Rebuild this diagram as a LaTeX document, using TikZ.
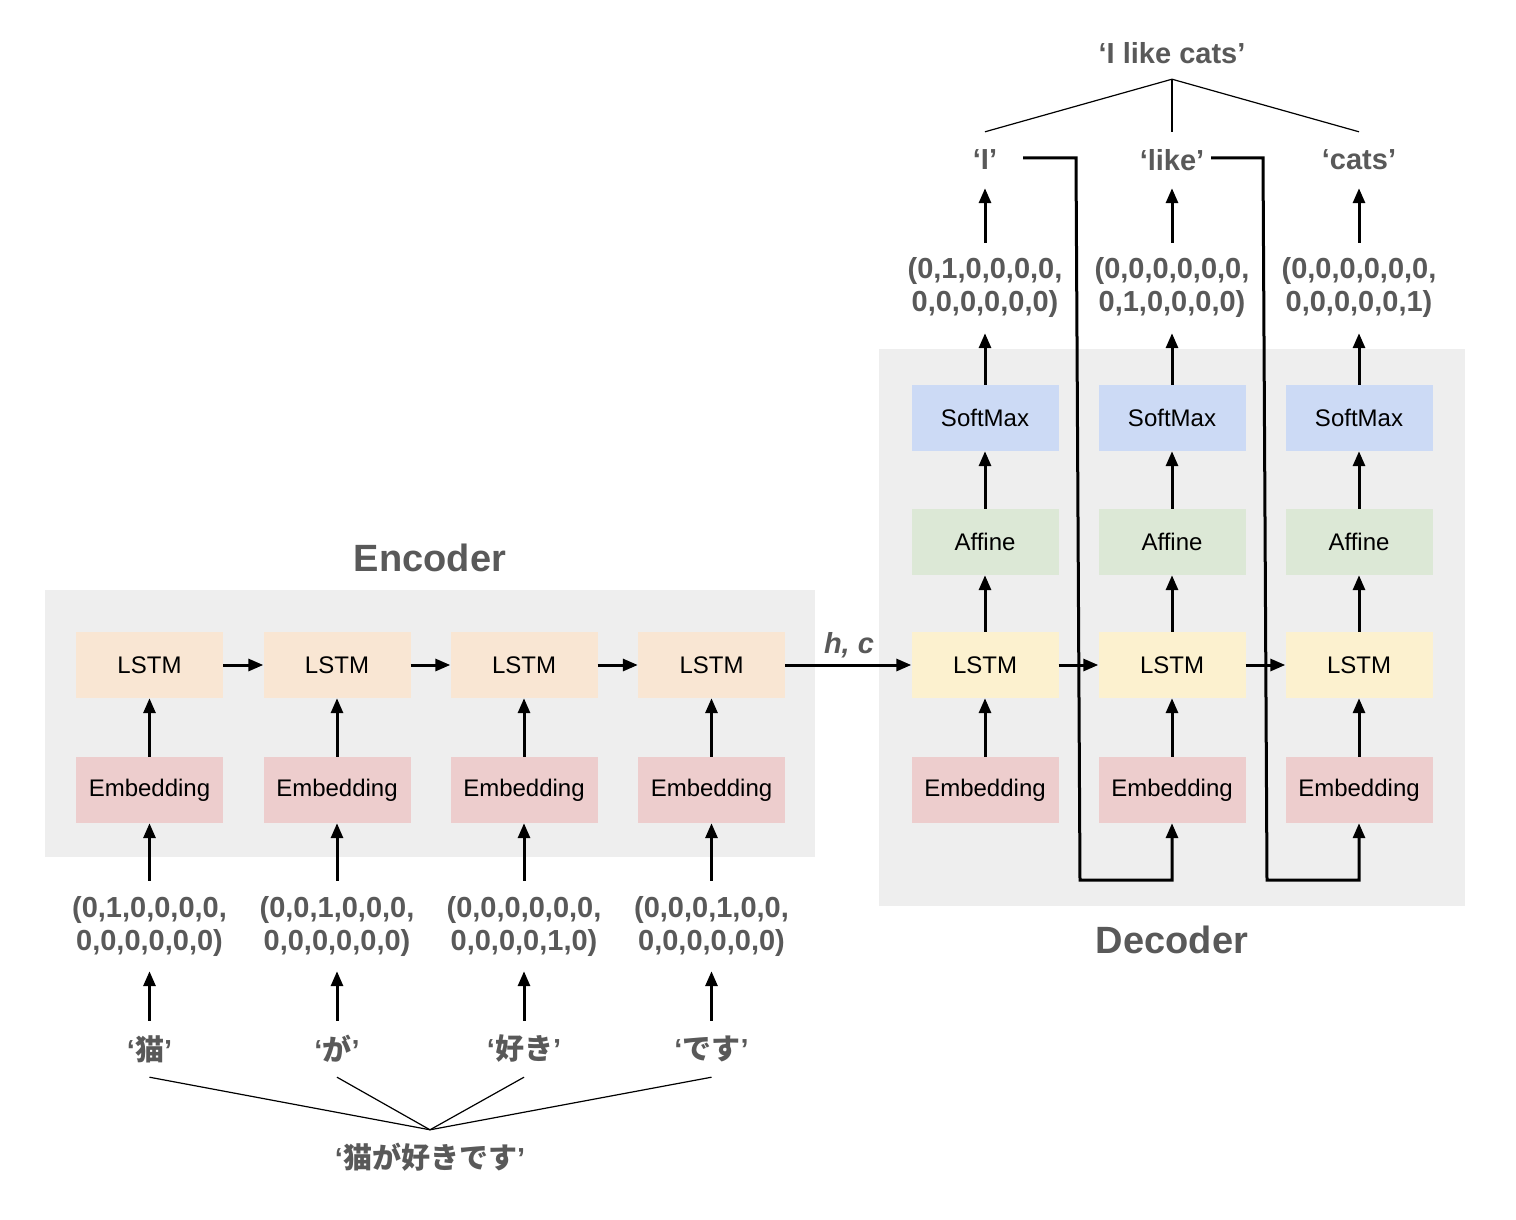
\documentclass[tikz,border=0pt]{standalone}
\usepackage{fontspec}
\setmainfont{Liberation Sans}
\newfontfamily\cjk{Noto Sans CJK JP}
\usetikzlibrary{arrows.meta}
\definecolor{bggray}{HTML}{EEEEEE}
\definecolor{elstmc}{HTML}{F9E6D3}
\definecolor{embc}{HTML}{EDCDCD}
\definecolor{dlstmc}{HTML}{FCF1CF}
\definecolor{affc}{HTML}{DCE8D6}
\definecolor{smxc}{HTML}{CCDAF5}
\definecolor{txtgray}{HTML}{595959}
\tikzset{
  blk/.style={minimum width=147pt, minimum height=66pt, inner sep=0pt, font=\fontsize{24}{28}\selectfont, text=black},
  elstm/.style={blk, fill=elstmc},
  emb/.style={blk, fill=embc},
  dlstm/.style={blk, fill=dlstmc},
  aff/.style={blk, fill=affc},
  smx/.style={blk, fill=smxc},
  lbl/.style={font=\fontsize{29}{33}\selectfont\bfseries, text=txtgray, inner sep=0pt},
  vec/.style={lbl, align=center, minimum height=90pt},
  word/.style={lbl, minimum height=56pt},
  ttl/.style={font=\fontsize{38}{44}\selectfont\bfseries, text=txtgray, inner sep=0pt},
  arr/.style={line width=3pt, -{Triangle[length=15pt,width=12pt]}},
  thinln/.style={line width=1.2pt},
  bgbox/.style={fill=bggray, draw=none},
}
\begin{document}
\begin{tikzpicture}[x=1pt,y=-1pt]
\useasboundingbox (0,0) rectangle (1516,1220);
% backgrounds
\fill[bgbox] (45,590) rectangle (815,857);
\fill[bgbox] (879,349) rectangle (1465,906);

% titles
\node[ttl] (enctitle) at (430,558) {Encoder};
\node[ttl] (dectitle) at (1172,940) {Decoder};

% encoder
\node[elstm] (el1) at (149.5,665) {LSTM};
\node[elstm] (el2) at (337,665) {LSTM};
\node[elstm] (el3) at (524,665) {LSTM};
\node[elstm] (el4) at (711.5,665) {LSTM};
\node[emb] (ee1) at (149.5,790) {Embedding};
\node[emb] (ee2) at (337,790) {Embedding};
\node[emb] (ee3) at (524,790) {Embedding};
\node[emb] (ee4) at (711.5,790) {Embedding};
\node[vec] (ev1) at (149.5,926) {(0,1,0,0,0,0,\\0,0,0,0,0,0)};
\node[vec] (ev2) at (337,926) {(0,0,1,0,0,0,\\0,0,0,0,0,0)};
\node[vec] (ev3) at (524,926) {(0,0,0,0,0,0,\\0,0,0,0,1,0)};
\node[vec] (ev4) at (711.5,926) {(0,0,0,1,0,0,\\0,0,0,0,0,0)};
\node[word] (ew1) at (149.5,1049) {‘{\cjk\bfseries 猫}’};
\node[word] (ew2) at (337,1049) {‘{\cjk\bfseries が}’};
\node[word] (ew3) at (524,1049) {‘{\cjk\bfseries 好き}’};
\node[word] (ew4) at (711.5,1049) {‘{\cjk\bfseries です}’};
\node[lbl, minimum height=54pt] (esent) at (430,1157) {‘{\cjk\bfseries 猫が好きです}’};

\foreach \i in {1,2,3,4} {
  \draw[arr] (ee\i.north) -- (el\i.south);
  \draw[arr] (ev\i.north) -- (ee\i.south);
  \draw[arr] (ew\i.north) -- (ev\i.south);
  \draw[thinln] (ew\i.south) -- (esent.north);
}
\draw[arr] (el1.east) -- (el2.west);
\draw[arr] (el2.east) -- (el3.west);
\draw[arr] (el3.east) -- (el4.west);

% decoder
\node[dlstm] (dl1) at (985,665) {LSTM};
\node[dlstm] (dl2) at (1172,665) {LSTM};
\node[dlstm] (dl3) at (1359,665) {LSTM};
\node[emb] (de1) at (985,790) {Embedding};
\node[emb] (de2) at (1172,790) {Embedding};
\node[emb] (de3) at (1359,790) {Embedding};
\node[aff] (da1) at (985,542) {Affine};
\node[aff] (da2) at (1172,542) {Affine};
\node[aff] (da3) at (1359,542) {Affine};
\node[smx] (ds1) at (985,418) {SoftMax};
\node[smx] (ds2) at (1172,418) {SoftMax};
\node[smx] (ds3) at (1359,418) {SoftMax};
\node[vec] (dv1) at (985,288) {(0,1,0,0,0,0,\\0,0,0,0,0,0)};
\node[vec] (dv2) at (1172,288) {(0,0,0,0,0,0,\\0,1,0,0,0,0)};
\node[vec] (dv3) at (1359,288) {(0,0,0,0,0,0,\\0,0,0,0,0,1)};
\node[word] (dw1) at (985,160) {‘I’};
\node[word] (dw2) at (1172,160) {‘like’};
\node[word] (dw3) at (1359,160) {‘cats’};
\node[lbl, minimum height=52pt] (dsent) at (1172,53) {‘I like cats’};

\foreach \i in {1,2,3} {
  \draw[arr] (de\i.north) -- (dl\i.south);
  \draw[arr] (dl\i.north) -- (da\i.south);
  \draw[arr] (da\i.north) -- (ds\i.south);
  \draw[arr] (ds\i.north) -- (dv\i.south);
  \draw[arr] (dv\i.north) -- (dw\i.south);
  \draw[thinln] (dw\i.north) -- (dsent.south);
}

% feedback
\coordinate (fb1) at (1023,158);
\coordinate (fb2) at (1211,158);
\draw[arr] (fb1) -- (1076,158) -- (1080,880) -| (de2.south);
\draw[arr] (fb2) -- (1263,158) -- (1267,880) -| (de3.south);

\draw[arr] (dl1.east) -- (dl2.west);
\draw[arr] (dl2.east) -- (dl3.west);

% context
\draw[arr] (el4.east) -- (dl1.west);
\node[lbl, font=\fontsize{29}{33}\selectfont\bfseries\itshape] (hc) at (849,645) {h, c};
\end{tikzpicture}
\end{document}
